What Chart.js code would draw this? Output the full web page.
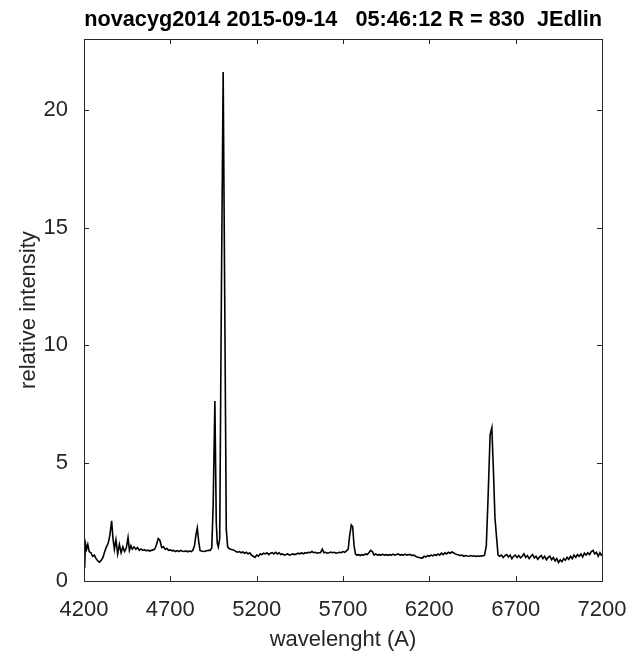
<!DOCTYPE html>
<html><head><meta charset="utf-8">
<script src="https://cdn.jsdelivr.net/npm/chart.js@4/dist/chart.umd.min.js"></script>
<style>html,body{margin:0;padding:0;background:#fff}</style>
</head><body>
<canvas id="c" width="633" height="656"></canvas>
<script>
const wavelength = [
4200,4204,4208,4215,4222,4230,4240,4250,4260,4270,
4280,4290,4300,4310,4320,4330,4340,4350,4360,4368,
4376,4385,4395,4405,4415,4425,4435,4445,4455,4463,
4472,4480,4490,4500,4510,4520,4530,4540,4550,4560,
4570,4580,4590,4600,4610,4620,4630,4640,4650,4660,
4670,4680,4690,4700,4710,4720,4730,4740,4750,4760,
4770,4780,4790,4800,4810,4820,4830,4840,4848,4856,
4864,4872,4880,4890,4900,4910,4920,4930,4940,4948,
4958,4966,4972,4978,4986,4996,5006,5015,5024,5032,
5040,5050,5060,5070,5080,5090,5100,5110,5120,5130,
5140,5150,5160,5170,5180,5190,5200,5210,5220,5230,
5240,5250,5260,5270,5280,5290,5300,5310,5320,5330,
5340,5350,5360,5370,5380,5390,5400,5410,5420,5430,
5440,5450,5460,5470,5480,5490,5500,5510,5520,5530,
5540,5550,5560,5570,5580,5590,5600,5610,5620,5630,
5640,5650,5660,5670,5680,5690,5700,5710,5720,5730,
5738,5748,5756,5764,5772,5780,5790,5800,5810,5820,
5830,5840,5850,5860,5870,5880,5890,5900,5910,5920,
5930,5940,5950,5960,5970,5980,5990,6000,6010,6020,
6030,6040,6050,6060,6070,6080,6090,6100,6110,6120,
6130,6140,6150,6160,6170,6180,6190,6200,6210,6220,
6230,6240,6250,6260,6270,6280,6290,6300,6310,6320,
6330,6340,6350,6360,6370,6380,6390,6400,6410,6420,
6430,6440,6450,6460,6470,6480,6490,6500,6510,6520,
6530,6540,6552,6562,6572,6580,6590,6598,6608,6618,
6628,6638,6648,6658,6668,6678,6688,6698,6708,6718,
6728,6738,6748,6758,6768,6778,6788,6798,6808,6818,
6828,6838,6848,6858,6868,6878,6888,6898,6908,6918,
6928,6938,6948,6958,6968,6978,6988,6998,7008,7018,
7028,7038,7048,7058,7068,7078,7088,7098,7108,7118,
7128,7138,7148,7158,7168,7178,7188,7195,7200
];
const intensity = [
1.45,0.55,1.6,1.35,1.55,1.25,1.2,1.05,1.1,0.95,
0.85,0.8,0.88,1.0,1.25,1.45,1.6,1.95,2.55,1.8,
1.35,1.75,1.15,1.55,1.2,1.45,1.25,1.4,1.85,1.3,
1.5,1.35,1.45,1.35,1.42,1.3,1.36,1.3,1.33,1.28,
1.31,1.27,1.3,1.32,1.36,1.55,1.8,1.72,1.42,1.45,
1.35,1.38,1.3,1.32,1.28,1.3,1.25,1.29,1.25,1.3,
1.26,1.25,1.28,1.24,1.27,1.25,1.3,1.5,1.95,2.25,
1.7,1.3,1.27,1.25,1.26,1.28,1.3,1.3,1.4,3.2,
7.64,2.5,1.6,1.45,1.8,12.5,21.6,12.0,2.2,1.45,
1.38,1.35,1.33,1.3,1.25,1.22,1.25,1.2,1.23,1.18,
1.22,1.15,1.2,1.1,1.05,1.0,1.1,1.05,1.15,1.12,
1.18,1.15,1.2,1.12,1.18,1.2,1.15,1.22,1.15,1.2,
1.12,1.15,1.1,1.12,1.15,1.1,1.12,1.15,1.12,1.15,
1.18,1.15,1.2,1.15,1.2,1.18,1.22,1.2,1.25,1.2,
1.22,1.18,1.2,1.2,1.35,1.2,1.22,1.18,1.2,1.23,
1.2,1.22,1.18,1.2,1.22,1.2,1.25,1.22,1.28,1.35,
1.9,2.38,2.3,1.5,1.15,1.1,1.12,1.08,1.12,1.1,
1.15,1.12,1.2,1.3,1.25,1.1,1.15,1.1,1.12,1.1,
1.13,1.1,1.12,1.09,1.12,1.1,1.14,1.1,1.12,1.15,
1.1,1.12,1.1,1.14,1.1,1.12,1.12,1.08,1.1,1.05,
1.02,1.0,0.98,0.97,1.05,1.02,1.08,1.05,1.1,1.07,
1.12,1.08,1.15,1.1,1.18,1.12,1.2,1.15,1.22,1.18,
1.23,1.2,1.15,1.12,1.1,1.08,1.1,1.05,1.08,1.06,
1.05,1.08,1.05,1.07,1.04,1.06,1.05,1.07,1.06,1.1,
1.5,3.5,6.2,6.5,4.5,2.7,1.8,1.1,1.05,1.1,
1.0,1.08,1.12,1.02,1.1,0.95,1.05,1.1,1.0,1.08,
0.98,1.05,1.15,1.0,1.08,0.95,1.05,1.12,0.98,1.05,
0.92,1.02,1.08,0.95,1.05,0.9,1.0,1.05,0.9,1.0,
0.85,0.95,0.78,0.9,0.82,0.95,0.88,1.0,0.92,1.05,
0.95,1.1,1.0,1.12,1.05,1.15,1.02,1.18,1.1,1.2,
1.12,1.25,1.3,1.15,1.22,1.05,1.2,1.1,1.15
];
const xTicks = [4200, 4700, 5200, 5700, 6200, 6700, 7200];
const yTicks = [0, 5, 10, 15, 20];
const titleText = 'novacyg2014 2015-09-14   05:46:12 R = 830  JEdlin';
const xLabel = 'wavelenght (A)';
const yLabel = 'relative intensity';

const axisColor = '#262626';
const FONT = "'Liberation Sans', Arial, sans-serif";

const boxPlugin = {
  id: 'box',
  afterDatasetsDraw(chart) {
    const {ctx, chartArea: {left, right, top, bottom}, scales: {x, y}} = chart;
    ctx.save();
    ctx.strokeStyle = axisColor;
    ctx.lineWidth = 1;
    ctx.strokeRect(Math.round(left) + 0.5, Math.round(top) + 0.5, Math.round(right - left), Math.round(bottom - top));
    const L = 5;
    ctx.beginPath();
    xTicks.forEach(v => {
      const px = Math.round(x.getPixelForValue(v)) + 0.5;
      ctx.moveTo(px, bottom); ctx.lineTo(px, bottom - L);
      ctx.moveTo(px, top); ctx.lineTo(px, top + L);
    });
    yTicks.forEach(v => {
      const py = Math.round(y.getPixelForValue(v)) + 0.5;
      ctx.moveTo(left, py); ctx.lineTo(left + L, py);
      ctx.moveTo(right, py); ctx.lineTo(right - L, py);
    });
    ctx.stroke();
    ctx.restore();
  }
};

new Chart(document.getElementById('c'), {
  type: 'line',
  data: {
    datasets: [{
      data: wavelength.map((w, i) => ({x: w, y: intensity[i]})),
      borderColor: '#000',
      borderWidth: 1.6,
      pointRadius: 0,
      tension: 0,
      fill: false
    }]
  },
  options: {
    responsive: false,
    animation: false,
    layout: {padding: {left: 0, right: 31, top: 0, bottom: 0}},
    plugins: {
      legend: {display: false},
      tooltip: {enabled: false},
      title: {
        display: true,
        text: titleText,
        align: 'end',
        color: '#000',
        font: {family: FONT, size: 21.7, weight: 'bold', lineHeight: 1.2},
        padding: {top: 7, bottom: 6}
      }
    },
    scales: {
      x: {
        type: 'linear',
        min: 4200, max: 7200,
        afterFit(s) { s.height = 75; s.paddingLeft = 0; s.paddingRight = 0; },
        afterBuildTicks(s) { s.ticks = xTicks.map(v => ({value: v})); },
        grid: {display: false, drawTicks: false},
        border: {display: false},
        ticks: {color: axisColor, font: {family: FONT, size: 22}, padding: 16, maxRotation: 0,
                callback: v => String(v)},
        title: {display: true, text: xLabel, color: axisColor, font: {family: FONT, size: 22, lineHeight: 1.2}, padding: {top: 0, bottom: 3}}
      },
      y: {
        type: 'linear',
        min: 0, max: 23,
        afterFit(s) { s.width = 84; s.paddingTop = 0; s.paddingBottom = 0; },
        afterBuildTicks(s) { s.ticks = yTicks.map(v => ({value: v})); },
        grid: {display: false, drawTicks: false},
        border: {display: false},
        ticks: {color: axisColor, font: {family: FONT, size: 22}, padding: 16,
                callback: v => String(v)},
        title: {display: true, text: yLabel, color: axisColor, font: {family: FONT, size: 22, lineHeight: 1.2}, padding: {top: 16, bottom: 0}}
      }
    }
  },
  plugins: [boxPlugin]
});
</script>
</body></html>
